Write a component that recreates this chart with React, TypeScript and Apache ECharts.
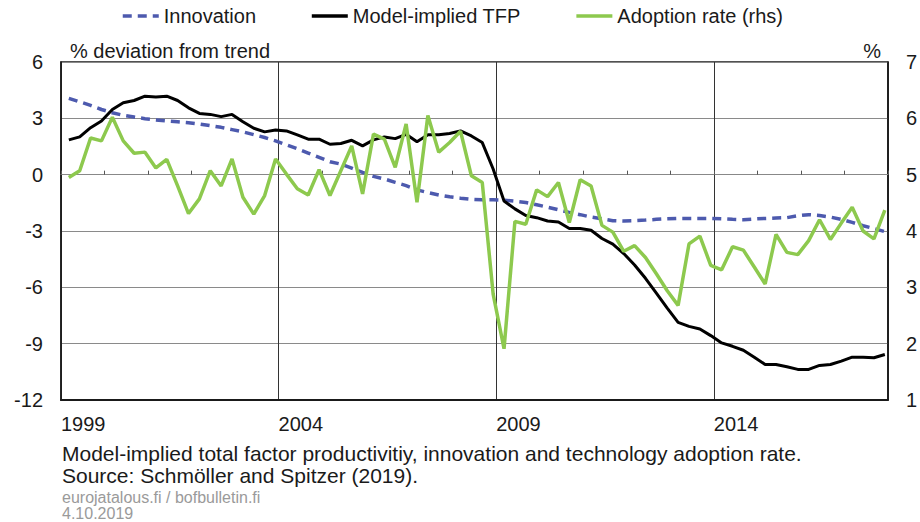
import React, { useEffect, useRef } from "react";
import * as echarts from "echarts";

// Quarterly categories 1999Q1 .. 2017Q4
const startYear = 1999;
const endYear = 2017;
const quarters: string[] = [];
for (let y = startYear; y <= endYear; y++) {
  for (let q = 1; q <= 4; q++) quarters.push(`${y}Q${q}`);
}

const innovation = [
  4.06, 3.88, 3.69, 3.47, 3.3, 3.16, 3.07, 2.98, 2.91, 2.86, 2.82, 2.77, 2.7, 2.61, 2.52, 2.4, 2.28, 2.13, 1.98, 1.8,
  1.59, 1.38, 1.15, 0.92, 0.69, 0.56, 0.35, 0.12, -0.09, -0.23, -0.41, -0.58, -0.81, -0.95, -1.08, -1.18, -1.25, -1.31, -1.34, -1.34,
  -1.36, -1.41, -1.48, -1.6, -1.73, -1.87, -2.01, -2.13, -2.26, -2.35, -2.45, -2.47, -2.45, -2.42, -2.38, -2.35, -2.33, -2.33, -2.33, -2.33,
  -2.35, -2.38, -2.4, -2.36, -2.33, -2.31, -2.29, -2.19, -2.13, -2.17, -2.26, -2.38, -2.54, -2.72, -2.87, -3.03,
];

const tfp = [
  1.85, 2.01, 2.5, 2.86, 3.47, 3.83, 3.95, 4.18, 4.14, 4.18, 3.95, 3.56, 3.26, 3.21, 3.09, 3.21, 2.82, 2.47, 2.28, 2.38,
  2.33, 2.12, 1.89, 1.89, 1.62, 1.66, 1.83, 1.53, 1.85, 2.01, 1.92, 2.15, 1.75, 2.12, 2.12, 2.19, 2.33, 2.06, 1.71, 0.3,
  -1.4, -1.82, -2.17, -2.29, -2.47, -2.52, -2.87, -2.87, -2.96, -3.4, -3.7, -4.2, -4.81, -5.52, -6.31, -7.11, -7.87, -8.08, -8.22, -8.57,
  -8.96, -9.14, -9.35, -9.72, -10.11, -10.11, -10.23, -10.37, -10.37, -10.16, -10.11, -9.93, -9.72, -9.72, -9.75, -9.58,
];

const adoption = [
  4.95, 5.07, 5.65, 5.6, 6.02, 5.6, 5.38, 5.4, 5.12, 5.27, 4.8, 4.31, 4.57, 5.07, 4.8, 5.28, 4.6, 4.3, 4.63, 5.28,
  5.01, 4.75, 4.64, 5.09, 4.63, 5.07, 5.51, 4.66, 5.72, 5.63, 5.13, 5.9, 4.51, 6.05, 5.4, 5.57, 5.77, 4.98, 4.86, 2.88,
  1.91, 4.17, 4.12, 4.73, 4.61, 4.86, 4.15, 4.91, 4.8, 4.1, 3.98, 3.64, 3.74, 3.53, 3.24, 2.94, 2.68, 3.77, 3.91, 3.39,
  3.31, 3.72, 3.66, 3.36, 3.06, 3.94, 3.62, 3.58, 3.83, 4.2, 3.85, 4.14, 4.42, 4.0, 3.86, 4.37,
];

const xTickLabels = ["1999", "2004", "2009", "2014"];
const leftTicks = { min: -12, max: 6, interval: 3 };
const rightTicks = { min: 1, max: 7, interval: 1 };

const seriesNames = ["Innovation", "Model-implied TFP", "Adoption rate (rhs)"];
const leftAxisTitle = "% deviation from trend";
const rightAxisTitle = "%";
const captionLines = [
  "Model-implied total factor productivitiy, innovation and technology adoption rate.",
  "Source: Schmöller and Spitzer (2019).",
];
const footerLines = ["eurojatalous.fi / bofbulletin.fi", "4.10.2019"];

// position of a quarter on a continuous year axis
const quarterPos = (label: string) => {
  const y = parseInt(label.slice(0, 4), 10);
  const q = parseInt(label.slice(5), 10);
  return y + (q - 1) * 0.25 + 0.18;
};

const pair = (vals: number[]) => quarters.map((q, i) => [quarterPos(q), vals[i]]);

const FONT = "'Liberation Sans', Arial, sans-serif";

export default function App() {
  const ref = useRef<HTMLDivElement>(null);
  useEffect(() => {
    if (!ref.current) return;
    const chart = echarts.init(ref.current, undefined, { renderer: "svg" });
    chart.setOption({
      animation: false,
      backgroundColor: "#fff",
      textStyle: { fontFamily: FONT, color: "#1a1a1a" },
      legend: {
        left: 116,
        top: 1,
        itemGap: 54,
        itemWidth: 36,
        itemHeight: 14,
        itemStyle: { opacity: 0, borderWidth: 0 },
        lineStyle: { width: 3.5 },
        textStyle: { fontSize: 20, color: "#1a1a1a", fontFamily: FONT },
        data: seriesNames,
      },
      grid: {
        left: 61,
        right: 30,
        top: 62,
        bottom: 122,
        show: true,
        borderColor: "#1a1a1a",
        borderWidth: 1.5,
      },
      xAxis: [
        {
          type: "value",
          min: startYear,
          max: endYear + 1,
          interval: 5,
          position: "bottom",
          axisLine: { show: true, onZero: false, lineStyle: { color: "#1a1a1a", width: 2 } },
          axisTick: { show: false },
          axisLabel: {
            fontSize: 20,
            color: "#1a1a1a",
            align: "left",
            margin: 14,
            fontFamily: FONT,
            formatter: (v: number) => (xTickLabels.includes(String(v)) ? String(v) : ""),
          },
          splitLine: { show: true, lineStyle: { color: "#333", width: 1 } },
        },
        {
          type: "value",
          min: startYear,
          max: endYear + 1,
          interval: 1,
          position: "bottom",
          axisLine: { show: true, onZero: true, onZeroAxisIndex: 0, lineStyle: { color: "#888", width: 1 } },
          axisTick: { show: true, inside: true, length: 4, lineStyle: { color: "#555", width: 1 } },
          axisLabel: { show: false },
          splitLine: { show: false },
        },
      ],
      yAxis: [
        {
          type: "value",
          ...leftTicks,
          position: "left",
          axisLine: { show: true, onZero: false, lineStyle: { color: "#1a1a1a", width: 1.5 } },
          axisTick: { show: false },
          axisLabel: { fontSize: 20, color: "#1a1a1a", margin: 18, fontFamily: FONT },
          splitLine: { show: true, lineStyle: { color: "#8a8a8a", width: 1 } },
        },
        {
          type: "value",
          ...rightTicks,
          position: "right",
          axisLine: { show: true, onZero: false, lineStyle: { color: "#1a1a1a", width: 1.5 } },
          axisTick: { show: false },
          axisLabel: { fontSize: 20, color: "#1a1a1a", margin: 18, fontFamily: FONT },
          splitLine: { show: false },
        },
      ],
      series: [
        {
          name: seriesNames[0],
          type: "line",
          xAxisIndex: 0,
          yAxisIndex: 0,
          data: pair(innovation),
          showSymbol: false,
          symbol: "none",
          lineStyle: { color: "#4d5aae", width: 3.5, type: [9, 6] },
          itemStyle: { color: "#4d5aae" },
          z: 3,
        },
        {
          name: seriesNames[1],
          type: "line",
          xAxisIndex: 0,
          yAxisIndex: 0,
          data: pair(tfp),
          showSymbol: false,
          symbol: "none",
          lineStyle: { color: "#000", width: 3 },
          itemStyle: { color: "#000" },
          z: 4,
        },
        {
          name: seriesNames[2],
          type: "line",
          xAxisIndex: 0,
          yAxisIndex: 1,
          data: pair(adoption),
          showSymbol: false,
          symbol: "none",
          lineStyle: { color: "#8dc94e", width: 3.5 },
          itemStyle: { color: "#8dc94e" },
          z: 5,
        },
      ],
      graphic: [
        {
          type: "text",
          x: 70,
          y: 51,
          style: { text: leftAxisTitle, fill: "#1a1a1a", font: `20px ${FONT}`, verticalAlign: "middle" },
        },
        {
          type: "text",
          x: 881,
          y: 51,
          style: { text: rightAxisTitle, fill: "#1a1a1a", font: `20px ${FONT}`, align: "right", verticalAlign: "middle" },
        },
        {
          type: "text",
          x: 62,
          y: 453,
          style: { text: captionLines[0], fill: "#1a1a1a", font: `21px ${FONT}`, verticalAlign: "middle" },
        },
        {
          type: "text",
          x: 62,
          y: 475,
          style: { text: captionLines[1], fill: "#1a1a1a", font: `21px ${FONT}`, verticalAlign: "middle" },
        },
        {
          type: "text",
          x: 62,
          y: 497,
          style: { text: footerLines[0], fill: "#9a9a9a", font: `16px ${FONT}`, verticalAlign: "middle" },
        },
        {
          type: "text",
          x: 62,
          y: 513,
          style: { text: footerLines[1], fill: "#9a9a9a", font: `16px ${FONT}`, verticalAlign: "middle" },
        },
      ],
    });
    return () => chart.dispose();
  }, []);
  return (
    <div
      ref={ref}
      style={{ position: "fixed", left: 0, top: 0, width: 920, height: 522, background: "#fff" }}
    />
  );
}
